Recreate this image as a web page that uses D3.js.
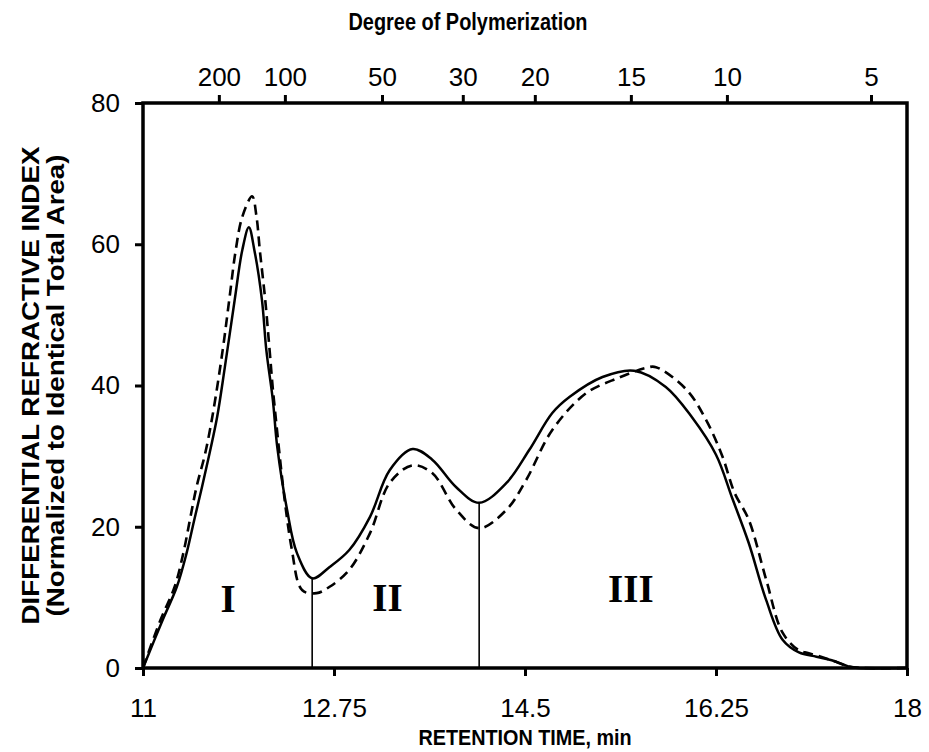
<!DOCTYPE html>
<html>
<head>
<meta charset="utf-8">
<script src="https://cdn.jsdelivr.net/npm/d3@7"></script>
<style>
  body { margin: 0; background: #fff; }
  svg text { font-family: "Liberation Sans", Arial, sans-serif; }
</style>
</head>
<body>
<div id="chart"></div>
<script>
var margin = {top: 103, right: 22, bottom: 84, left: 143},
    width = 929,
    height = 752,
    innerW = width - margin.left - margin.right,
    innerH = height - margin.top - margin.bottom;

// retention time (min) / refractive index, solid curve
var solidTime = [11.00, 11.18, 11.31, 11.40, 11.47, 11.54, 11.61, 11.68, 11.75, 11.84, 11.91, 11.97,
                 12.02, 12.09, 12.13, 12.19, 12.23, 12.32, 12.41, 12.55, 12.71, 12.89, 13.08, 13.26,
                 13.47, 13.65, 13.87, 14.08, 14.33, 14.54, 14.75, 14.91, 15.21, 15.50, 15.79, 16.03,
                 16.25, 16.40, 16.55, 16.71, 16.86, 17.01, 17.17, 17.31, 17.47, 17.55, 18.00];
var solidValue = [0, 6.8, 11.5, 16.3, 21.0, 25.6, 30.4, 35.6, 42.6, 52.1, 59.2, 62.4,
                  59.2, 52.1, 45.0, 37.9, 31.3, 22.4, 16.3, 12.7, 14.3, 16.7, 21.4, 28.0,
                  31.0, 29.5, 25.6, 23.4, 26.2, 30.9, 36.1, 38.4, 41.2, 42.1, 39.8, 35.5,
                  30.2, 24.0, 17.7, 9.6, 4.0, 2.2, 1.6, 1.1, 0.2, 0, 0];

// dashed curve
var dashTime = [11.00, 11.16, 11.29, 11.37, 11.43, 11.49, 11.57, 11.64, 11.73, 11.79, 11.85, 11.91, 12.00,
                12.04, 12.07, 12.12, 12.16, 12.20, 12.36, 12.46, 12.59, 12.71, 12.89, 13.08, 13.26,
                13.47, 13.65, 13.87, 14.08, 14.33, 14.51, 14.75, 15.06, 15.36, 15.61, 15.70, 15.98,
                16.16, 16.31, 16.42, 16.55, 16.71, 16.86, 17.01, 17.10, 17.31, 17.47, 17.60, 18.00];
var dashValue = [0, 6.8, 11.5, 16.3, 21.0, 25.6, 30.4, 36.0, 45.0, 52.1, 59.2, 63.9, 66.8,
                 63.9, 59.2, 52.1, 45.0, 37.9, 17.1, 11.0, 10.6, 11.5, 13.9, 19.1, 26.2,
                 28.7, 27.6, 22.4, 19.8, 22.4, 26.6, 33.7, 38.9, 41.1, 42.5, 42.6, 39.4,
                 35.1, 29.9, 24.8, 21.0, 12.5, 5.0, 2.5, 2.1, 1.1, 0.2, 0, 0];

// region boundaries
var cutTime = [12.55, 14.08],
    cutValue = [12.7, 23.4];

var regionLabels = ["I", "II", "III"],
    regionTime = [11.78, 13.24, 15.47],
    regionValue = [9.9, 10.0, 11.3];

var xTicks = [11, 12.75, 14.5, 16.25, 18],
    yTicks = [0, 20, 40, 60, 80],
    dpLabels = [200, 100, 50, 30, 20, 15, 10, 5],
    dpTime = [11.695, 12.30, 13.19, 13.93, 14.59, 15.47, 16.35, 17.67];

var svg = d3.select("#chart").append("svg")
    .attr("width", width)
    .attr("height", height);

var g = svg.append("g")
    .attr("transform", "translate(" + margin.left + "," + margin.top + ")");

var x = d3.scaleLinear().domain([11, 18]).range([0, innerW]);
var y = d3.scaleLinear().domain([0, 80]).range([innerH, 0]);

var line = d3.line()
    .x(d => x(d[0]))
    .y(d => y(d[1]))
    .curve(d3.curveCatmullRom.alpha(0.5));

var solid = solidTime.map((t, i) => [t, solidValue[i]]);
var dashed = dashTime.map((t, i) => [t, dashValue[i]]);

// vertical cut lines
g.selectAll(".cut")
    .data(cutTime)
    .enter().append("line")
    .attr("x1", d => x(d))
    .attr("x2", d => x(d))
    .attr("y1", y(0))
    .attr("y2", (d, i) => y(cutValue[i]))
    .attr("stroke", "#000")
    .attr("stroke-width", 1.6);

g.append("path")
    .datum(dashed)
    .attr("fill", "none")
    .attr("stroke", "#000")
    .attr("stroke-width", 2.6)
    .attr("stroke-dasharray", "10,6")
    .attr("d", line);

g.append("path")
    .datum(solid)
    .attr("fill", "none")
    .attr("stroke", "#000")
    .attr("stroke-width", 2.5)
    .attr("d", line);

g.selectAll(".region")
    .data(regionLabels)
    .enter().append("text")
    .attr("x", (d, i) => x(regionTime[i]))
    .attr("y", (d, i) => y(regionValue[i]))
    .attr("dy", "0.35em")
    .attr("text-anchor", "middle")
    .style("font-family", "'Liberation Serif', 'Times New Roman', serif")
    .style("font-weight", "bold")
    .style("font-size", "39px")
    .text(d => d);

// axes
var xAxis = d3.axisBottom(x).tickValues(xTicks).tickSize(8).tickFormat(d => d);
var yAxis = d3.axisLeft(y).tickValues(yTicks).tickSize(8);
var topAxis = d3.axisTop(x).tickValues(dpTime).tickSize(8)
    .tickFormat((d, i) => dpLabels[i]);

function styleAxis(sel) {
    sel.select(".domain").remove();
    sel.selectAll(".tick line").attr("stroke", "#000").attr("stroke-width", 3);
    sel.selectAll(".tick text").style("font-size", "26px").attr("fill", "#000");
}

g.append("g")
    .attr("transform", "translate(0," + innerH + ")")
    .call(xAxis)
    .call(styleAxis)
    .selectAll(".tick text").attr("y", 49).attr("dy", null);

g.append("g")
    .call(yAxis)
    .call(styleAxis)
    .selectAll(".tick text").attr("x", -23);

g.append("g")
    .call(topAxis)
    .call(styleAxis)
    .selectAll(".tick text").attr("y", -17).attr("dy", null);

// frame
g.append("rect")
    .attr("width", innerW)
    .attr("height", innerH)
    .attr("fill", "none")
    .attr("stroke", "#000")
    .attr("stroke-width", 3.5);

// titles
svg.append("text")
    .attr("transform", "translate(" + (margin.left + x(14.5)) + ",745) scale(0.9,1)")
    .attr("text-anchor", "middle")
    .style("font-weight", "bold")
    .style("font-size", "22px")
    .text("RETENTION TIME, min");

svg.append("text")
    .attr("transform", "translate(468,30) scale(0.83,1)")
    .attr("text-anchor", "middle")
    .style("font-weight", "bold")
    .style("font-size", "24px")
    .text("Degree of Polymerization");

var yTitle = svg.append("text")
    .attr("transform", "translate(39," + (margin.top + innerH / 2) + ") rotate(-90)")
    .attr("text-anchor", "middle")
    .style("font-weight", "bold")
    .style("font-size", "24px");
yTitle.append("tspan").attr("x", 0).attr("y", 0)
    .attr("textLength", 478).attr("lengthAdjust", "spacingAndGlyphs")
    .text("DIFFERENTIAL REFRACTIVE INDEX");
yTitle.append("tspan").attr("x", 0).attr("y", 25)
    .attr("textLength", 462).attr("lengthAdjust", "spacingAndGlyphs")
    .text("(Normalized to Identical Total Area)");
</script>
</body>
</html>
